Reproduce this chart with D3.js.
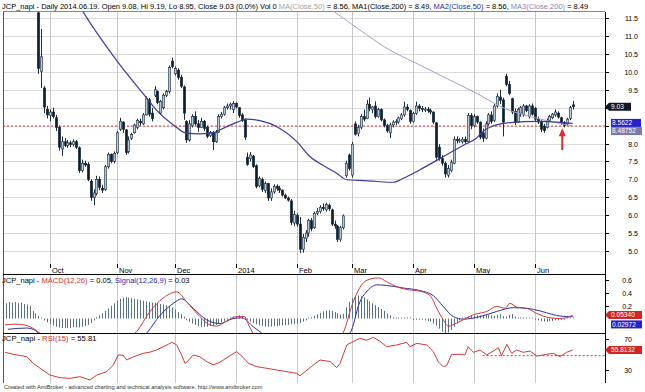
<!DOCTYPE html>
<html><head><meta charset="utf-8">
<script src="https://cdn.jsdelivr.net/npm/d3@7"></script>
<style>html,body{margin:0;padding:0;background:#fff;overflow:hidden}</style>
</head><body><svg id="c" width="645" height="392"></svg>
<script>
// ---------------- DATA ----------------
// bar index 0 = first visible candle; indices < 0 are bars whose prices lie above the chart
const opens = [11.65,10.02,9.55,8.95,8.78,8.88,8.72,8.45,7.85,8.05,7.95,8.02,7.97,8.05,7.88,7.25,7.45,7.42,6.95,6.50,6.60,7.00,6.75,6.72,7.35,7.70,7.50,7.75,8.40,8.60,8.38,7.78,8.15,8.30,8.45,8.62,8.55,8.80,9.22,8.85,9.35,9.45,8.85,9.00,9.35,9.45,10.30,9.95,10.05,9.85,9.58,8.62,8.10,8.50,8.75,8.55,8.45,8.62,8.45,8.22,8.30,8.05,8.32,8.75,8.82,9.00,9.05,8.95,9.12,9.00,8.80,8.65,7.62,7.58,7.65,7.38,6.82,7.00,6.68,6.88,6.48,6.65,6.80,6.75,6.70,6.56,6.48,6.40,5.78,6.00,5.75,5.05,5.35,5.50,5.85,5.65,6.05,6.10,6.22,6.15,6.28,6.15,5.75,5.70,5.32,5.65,7.10,7.68,7.12,8.55,8.28,8.45,8.75,8.70,9.10,8.95,9.05,8.75,8.95,8.66,8.50,8.30,8.52,8.60,8.60,8.70,8.80,9.02,8.92,8.62,8.84,9.05,8.98,8.95,8.96,8.92,8.88,8.58,7.90,7.58,7.45,7.12,7.25,7.45,8.12,8.08,8.05,8.12,8.05,8.78,8.50,8.75,8.60,8.30,8.15,8.55,8.80,8.65,9.05,9.30,9.22,9.88,9.65,9.25,8.90,8.60,8.85,8.80,9.05,8.75,9.05,8.98,8.68,8.62,8.48,8.45,8.65,8.72,8.80,8.85,8.72,8.58,8.55,8.70,9.08];
const highs = [11.75,11.20,9.60,9.05,8.95,9.00,8.80,8.50,8.20,8.15,8.10,8.08,8.12,8.10,7.92,7.55,7.52,7.48,7.00,6.72,7.10,7.08,6.85,7.40,7.75,7.72,7.78,8.35,8.72,8.62,8.40,8.20,8.30,8.55,8.70,8.70,8.85,9.32,9.27,9.00,9.60,9.48,9.22,9.40,9.50,10.18,10.40,10.15,10.10,9.92,9.62,8.65,8.66,8.82,8.90,8.66,8.72,8.66,8.50,8.35,8.35,8.38,8.82,8.88,9.05,9.12,9.14,9.18,9.15,9.02,8.85,8.70,7.75,7.76,7.68,7.42,7.08,7.05,6.94,6.90,6.75,6.86,6.86,6.82,6.72,6.60,6.52,6.45,6.12,6.05,5.95,5.48,5.58,5.90,5.92,6.10,6.20,6.28,6.33,6.35,6.32,6.18,5.85,5.72,5.70,6.02,7.52,7.72,8.05,8.62,8.52,8.82,8.95,9.22,9.28,9.05,9.18,9.00,8.98,8.70,8.55,8.58,8.65,8.68,8.75,8.85,9.17,9.10,8.95,8.88,9.17,9.10,9.05,9.02,9.02,8.98,8.90,8.60,7.98,7.68,7.50,7.40,7.55,8.20,8.20,8.15,8.18,8.20,8.85,8.85,8.82,8.78,8.62,8.42,8.62,8.85,8.90,9.10,9.40,9.50,9.28,9.95,9.75,9.28,8.98,9.00,9.05,9.10,9.08,9.10,9.12,9.02,8.75,8.65,8.55,8.70,8.80,8.85,8.95,8.90,8.75,8.62,8.72,9.05,9.19];
const lows = [9.95,9.55,8.85,8.70,8.62,8.70,8.35,7.80,7.65,7.90,7.88,7.90,7.92,7.85,7.18,7.20,7.35,6.95,6.40,6.28,6.55,6.70,6.62,6.68,7.30,7.45,7.45,7.70,8.35,8.30,7.68,7.72,8.10,8.28,8.40,8.50,8.52,8.78,8.75,8.62,9.30,9.10,8.80,8.95,9.30,9.40,10.10,9.90,9.78,9.55,8.66,8.02,8.05,8.45,8.50,8.33,8.44,8.35,8.15,8.18,7.82,8.02,8.30,8.70,8.78,8.95,8.95,8.85,8.98,8.72,8.60,8.10,7.38,7.50,7.32,6.75,6.78,6.65,6.62,6.40,6.40,6.60,6.68,6.62,6.52,6.45,6.38,5.72,5.70,5.68,4.94,4.95,5.25,5.40,5.55,5.62,6.00,6.05,6.12,6.10,6.12,5.70,5.62,5.25,5.26,5.60,7.05,7.25,7.05,8.22,8.20,8.40,8.62,8.68,8.90,8.85,8.70,8.72,8.62,8.45,8.30,8.15,8.45,8.52,8.55,8.65,8.75,8.90,8.55,8.58,8.80,8.90,8.88,8.88,8.86,8.82,8.55,7.55,7.52,7.38,7.05,7.05,7.20,7.42,8.00,8.02,8.00,8.00,8.02,8.40,8.45,8.55,8.12,8.05,8.12,8.50,8.55,8.60,9.00,9.10,8.20,9.60,9.35,8.82,8.52,8.58,8.75,8.75,8.88,8.70,8.78,8.62,8.55,8.32,8.30,8.42,8.62,8.68,8.75,8.70,8.52,8.45,8.50,8.65,8.95];
const closes = [10.10,10.42,9.02,8.80,8.88,8.75,8.45,7.90,8.05,7.95,8.02,7.97,8.05,7.90,7.25,7.45,7.40,7.00,6.50,6.62,7.00,6.78,6.70,7.35,7.70,7.50,7.72,8.30,8.62,8.40,7.75,8.10,8.25,8.52,8.65,8.58,8.80,9.25,8.82,8.70,9.50,9.15,9.18,9.35,9.45,10.12,10.15,10.10,9.85,9.60,8.85,8.10,8.55,8.75,8.55,8.45,8.62,8.42,8.20,8.30,8.05,8.30,8.75,8.82,9.00,9.05,9.10,9.12,9.02,8.78,8.65,8.18,7.42,7.68,7.36,6.80,7.02,6.72,6.88,6.48,6.65,6.80,6.75,6.70,6.56,6.48,6.42,5.80,6.02,5.75,5.05,5.38,5.50,5.85,5.62,6.05,6.10,6.22,6.18,6.30,6.18,5.75,5.70,5.32,5.65,5.98,7.45,7.30,7.98,8.26,8.45,8.75,8.68,9.10,8.98,9.02,8.75,8.95,8.66,8.50,8.35,8.52,8.60,8.62,8.72,8.80,9.02,8.95,8.62,8.84,9.05,8.98,8.95,8.96,8.92,8.88,8.60,7.62,7.58,7.45,7.15,7.30,7.48,8.12,8.08,8.10,8.12,8.05,8.78,8.50,8.75,8.60,8.18,8.15,8.55,8.80,8.62,9.05,9.32,9.20,8.60,9.65,9.40,8.88,8.60,8.95,9.00,9.05,8.92,9.05,8.82,8.68,8.60,8.40,8.36,8.65,8.76,8.82,8.88,8.74,8.56,8.50,8.68,9.00,9.03];

// moving averages: [bar index, value]
const ma50Pts = [[12,12.15],[15,11.73],[26.4,10.38],[37.3,9.27],[40.6,8.94],[46.5,8.52],[51,8.29],[55.6,8.27],[61.1,8.32],[62.5,8.38],[68.3,8.59],[71.7,8.68],[76.3,8.64],[82.1,8.47],[88.9,8.06],[93.5,7.64],[98.7,7.36],[102.7,7.17],[106.2,6.99],[110.7,6.97],[116.5,6.94],[122.2,6.92],[125.7,7.03],[131.4,7.27],[138.5,7.59],[146.5,7.96],[150.7,8.14],[153.4,8.36],[156.9,8.50],[161.5,8.58],[167.2,8.61],[173,8.62],[178.7,8.60],[184,8.5622]];
const ma200Pts = [[96,12.01],[101,11.73],[110.7,11.17],[120,10.66],[131.4,10.19],[141,9.80],[150.7,9.41],[160.3,8.99],[167.2,8.80],[173,8.68],[184,8.4875]];
const ma200Last = 8.48752, ma50Last = 8.5622, lastClose = 9.03;

// MACD histogram, one value per bar starting at bar -11
const histStart = -11;
const macdHist = [0.24,0.26,0.25,0.26,0.24,0.25,0.23,0.22,0.20,0.12,0.08,
 0.04,0.01,
 -0.03,-0.06,-0.09,-0.11,-0.13,-0.14,-0.15,-0.15,-0.15,-0.15,-0.14,-0.14,-0.14,-0.13,-0.12,-0.10,-0.07,-0.03,
 0.02,0.05,0.08,0.12,0.16,0.20,0.24,0.28,0.31,0.33,0.34,0.33,
 0.32,0.31,0.30,0.29,0.28,0.27,0.26,0.25,0.25,0.24,0.23,0.22,0.21,0.19,0.17,0.14,0.10,0.07,0.03,
 -0.02,-0.05,-0.08,-0.10,-0.12,-0.13,-0.13,-0.13,-0.12,-0.11,-0.10,-0.08,-0.06,-0.04,-0.02,
 0.01,0.03,0.04,0.05,0.04,0.02,
 -0.02,-0.05,-0.07,-0.09,-0.11,-0.12,-0.13,-0.13,-0.13,-0.12,-0.12,-0.11,-0.11,-0.10,-0.10,-0.09,-0.09,-0.08,-0.07,-0.05,-0.03,-0.01,
 0.02,0.04,0.07,0.09,0.11,0.12,0.13,0.12,0.10,0.08,0.06,0.07,0.18,0.26,0.32,0.35,0.36,0.35,0.33,0.30,0.27,0.24,0.21,0.18,0.15,0.12,0.08,0.05,0.02,
 0.01,0.00,-0.01,-0.01,-0.01,-0.01,-0.02,-0.02,-0.02,
 -0.02,-0.03,-0.04,-0.05,-0.08,-0.11,-0.16,-0.21,-0.24,-0.22,-0.18,-0.13,-0.08,-0.03,
 0.01,0.02,0.03,0.04,0.04,0.05,0.05,0.05,0.05,0.06,0.05,0.04,0.06,0.07,0.04,0.03,0.06,0.07,0.03,0.01,
 0.00,-0.01,0.00,-0.01,-0.01,
 -0.02,-0.03,-0.04,-0.05,-0.05,-0.04,-0.04,-0.03,-0.03,-0.02,-0.02,-0.01,0.01,0.02];
const macdPts = [[-11.5,-0.10],[-8,-0.09],[-5,-0.10],[-2,-0.15],[0.5,-0.23],[5,-0.40],[12,-0.55],[20,-0.50],[27,-0.35],[33.3,-0.23],[38.4,0.11],[42.9,0.32],[46.4,0.41],[47.6,0.42],[51.1,0.26],[55.6,0.03],[59,-0.10],[61.4,-0.12],[64.8,-0.04],[68.3,0.03],[71,0.03],[72.2,-0.08],[73.9,-0.23],[80,-0.45],[90,-0.60],[100,-0.45],[104.9,-0.23],[108.4,0.26],[111.3,0.53],[114.2,0.62],[117.1,0.64],[119.9,0.58],[123.4,0.50],[127.9,0.45],[131.4,0.43],[134.9,0.36],[137.2,0.16],[139.4,-0.02],[141.2,-0.12],[144.1,-0.07],[146.3,-0.02],[149.8,0.06],[154.4,0.11],[157.8,0.19],[160.7,0.16],[162.4,0.24],[164.7,0.18],[168.2,0.16],[171.6,0.08],[176.2,0.01],[179.6,0.00],[183,0.03],[184,0.0534]];
const signalPts = [[-10.5,-0.17],[-4,-0.15],[-1,-0.19],[0,-0.23],[10,-0.45],[20,-0.60],[30,-0.50],[37.3,-0.23],[41.9,0.05],[46.5,0.24],[49.3,0.31],[53.3,0.16],[57.9,-0.02],[62.5,-0.08],[67.1,0.00],[70,0.01],[74,-0.13],[76.9,-0.23],[85,-0.45],[95,-0.50],[103,-0.35],[107.3,-0.23],[110.7,0.26],[113.6,0.45],[116.5,0.53],[119.9,0.52],[125.7,0.48],[131.4,0.44],[136,0.36],[139.4,0.19],[142.9,0.03],[146.3,-0.01],[152.1,0.03],[157.8,0.11],[163.5,0.17],[168.2,0.16],[172.7,0.12],[177.3,0.06],[181.9,0.03],[184,0.0297]];
const macdLast = 0.05340, signalLast = 0.02972;

const rsiPts = [[-11.5,52.8],[-8.6,50.2],[-4,47.2],[-1.8,38.6],[0.6,32.2],[4,23.5],[7.4,20.1],[10.9,19.2],[14.3,21.4],[17.8,17.1],[20.1,23.5],[23.5,27.8],[25.8,36.5],[27.5,49.4],[29.2,49],[30.4,42.9],[32.7,47],[36.1,51.5],[38.4,53],[40.7,55.8],[43,60.1],[44.7,63.1],[45.9,65.7],[47.6,62.5],[49.3,49.4],[50.5,38.6],[51.6,42],[53.3,49.4],[55.6,47],[58,40.7],[60.2,36.5],[62.5,40],[66,48.5],[68.3,53.7],[70.6,45.9],[72.3,38.6],[75.2,34.3],[78.6,32.2],[82.1,30],[85.5,27.8],[88.9,25.7],[90.1,22.6],[91.8,27.8],[94.7,36.5],[97,42.9],[100.4,41],[102.7,33],[103.9,38.6],[106.2,62.3],[107.9,65.7],[110.7,70.9],[113,68.5],[115.3,72],[117.6,67.3],[119.9,60.1],[123.4,62.3],[126.8,65.7],[128,60.1],[130.3,64.4],[133.7,62.3],[136,53.7],[137.7,40.7],[139.4,34.3],[140.6,35.6],[142.3,50.2],[145.2,50.2],[146.9,49.4],[148,60.1],[149.8,52.8],[152.1,55.8],[154.4,49.4],[156.7,54.5],[158.4,58.8],[159.5,48.5],[161.3,63.1],[163,51.5],[164.7,55.8],[167,52.8],[169.3,54.5],[171.6,48],[175,50.2],[177.3,51.5],[179.6,47.2],[181.9,52.8],[184,55.8132]];
const rsiLast = 55.8132;
const rsiRefLevel = 48.5, rsiRefStart = 153;

// axes / labels
const monthLabels = ["Oct","Nov","Dec","2014","Feb","Mar","Apr","May","Jun"];
const monthIdx = [4,27,47,68,89,108,129,150,171];
const priceTicks = [5.0,5.5,6.0,6.5,7.0,7.5,8.0,8.5,9.0,9.5,10.0,10.5,11.0,11.5];
const macdTicks = [0.2,0.4,0.6];
const rsiTicks = [30,70];
const arrowIdx = 180.4, arrowTip = 8.43, arrowTail = 7.82;

// ---------------- DRAWING ----------------
const FONT = "'Liberation Sans', Arial, sans-serif";
const svg = d3.select("#c");
const L = 3, R = 605;
const P = {top: 12, bot: 263}, M = {top: 274, bot: 333}, S = {top: 333, bot: 383};

const x = d3.scaleLinear().domain([0, 184]).range([38.4, 572.7]);
const yP = d3.scaleLinear().domain([5, 11.5]).range([251, 18.2]);
const yM = d3.scaleLinear().domain([0, 0.6]).range([318.5, 280.4]);
const yR = d3.scaleLinear().domain([30, 70]).range([370, 339]);

const defs = svg.append("defs");
function clip(id, t, b) {
  defs.append("clipPath").attr("id", id).append("rect")
    .attr("x", L).attr("y", t).attr("width", R - L).attr("height", b - t);
  return "url(#" + id + ")";
}
const cP = clip("cp", P.top, P.bot), cM = clip("cm", M.top, M.bot), cS = clip("cs", S.top, S.bot);

svg.append("rect").attr("width", 645).attr("height", 392).attr("fill", "#fff");

// grid
const grid = svg.append("g");
grid.selectAll(".hg").data(priceTicks).join("line")
  .attr("x1", L).attr("x2", R).attr("y1", d => Math.round(yP(d)) + 0.5).attr("y2", d => Math.round(yP(d)) + 0.5)
  .attr("stroke", "#dcdcdc").attr("stroke-width", 1);
[[P.top, P.bot], [M.top, M.bot], [S.top, S.bot]].forEach(([t, b]) => {
  grid.selectAll(null).data(monthIdx).join("line")
    .attr("x1", d => Math.round(x(d)) + 0.5).attr("x2", d => Math.round(x(d)) + 0.5)
    .attr("y1", t).attr("y2", b).attr("stroke", "#c8c8c8").attr("stroke-width", 1);
});

// date axis labels
const dax = svg.append("g");
monthIdx.forEach((d, k) => {
  const xx = Math.round(x(d)) + 0.5;
  dax.append("line").attr("x1", xx).attr("x2", xx).attr("y1", 264).attr("y2", 268).attr("stroke", "#000");
  dax.append("text").attr("x", xx + 1.5).attr("y", 272.5).attr("font-family", FONT).attr("font-size", 7.5)
    .attr("fill", "#000").text(monthLabels[k]);
});

// price pane
const pg = svg.append("g").attr("clip-path", cP);
pg.append("line").attr("x1", L).attr("x2", R).attr("y1", yP(ma200Last)).attr("y2", yP(ma200Last))
  .attr("stroke", "#d23a3a").attr("stroke-dasharray", "2,2").attr("stroke-width", 1);
const bars = d3.range(closes.length);
pg.selectAll(".wk").data(bars).join("line")
  .attr("x1", i => Math.round(x(i)) + 0.5).attr("x2", i => Math.round(x(i)) + 0.5)
  .attr("y1", i => yP(highs[i])).attr("y2", i => yP(lows[i]))
  .attr("stroke", "#1c2d3f").attr("stroke-width", 1);
pg.selectAll(".bd").data(bars).join("rect")
  .attr("x", i => Math.round(x(i)) - 0.7).attr("width", 2.4)
  .attr("y", i => yP(Math.max(opens[i], closes[i])))
  .attr("height", i => Math.max(1, Math.abs(yP(opens[i]) - yP(closes[i]))))
  .attr("fill", i => closes[i] >= opens[i] ? "#b9c7d5" : "#0e1c2b")
  .attr("stroke", "#1c2d3f").attr("stroke-width", 0.6);
const lineP = d3.line().x(d => x(d[0])).y(d => yP(d[1])).curve(d3.curveMonotoneX);
pg.append("path").attr("d", lineP(ma200Pts)).attr("fill", "none").attr("stroke", "#a7a3c6").attr("stroke-width", 1);
pg.append("path").attr("d", lineP(ma50Pts)).attr("fill", "none").attr("stroke", "#3b3b9b").attr("stroke-width", 1.2);
// red arrow
const ax = x(arrowIdx);
pg.append("line").attr("x1", ax).attr("x2", ax).attr("y1", yP(arrowTip) + 6).attr("y2", yP(arrowTail))
  .attr("stroke", "#e32b2b").attr("stroke-width", 2);
pg.append("path").attr("d", `M${ax},${yP(arrowTip)} L${ax - 3.5},${yP(arrowTip) + 8} L${ax + 3.5},${yP(arrowTip) + 8} Z`).attr("fill", "#e32b2b");

// MACD pane
const mg = svg.append("g").attr("clip-path", cM);
mg.selectAll(".hb").data(macdHist).join("line")
  .attr("x1", (d, k) => Math.round(x(k + histStart)) + 0.5).attr("x2", (d, k) => Math.round(x(k + histStart)) + 0.5)
  .attr("y1", yM(0)).attr("y2", d => Math.abs(yM(d) - yM(0)) < 1 ? yM(0) - 1 : yM(d))
  .attr("stroke", "#557383").attr("stroke-width", 1);
const lineM = d3.line().x(d => x(d[0])).y(d => yM(d[1])).curve(d3.curveMonotoneX);
mg.append("path").attr("d", lineM(signalPts)).attr("fill", "none").attr("stroke", "#3030a8").attr("stroke-width", 1);
mg.append("path").attr("d", lineM(macdPts)).attr("fill", "none").attr("stroke", "#d03a3a").attr("stroke-width", 1);

// RSI pane
const rg = svg.append("g").attr("clip-path", cS);
rg.append("line").attr("x1", x(rsiRefStart)).attr("x2", R).attr("y1", yR(rsiRefLevel)).attr("y2", yR(rsiRefLevel))
  .attr("stroke", "#d23a3a").attr("stroke-dasharray", "2,2");
const lineR = d3.line().x(d => x(d[0])).y(d => yR(d[1]));
rg.append("path").attr("d", lineR(rsiPts)).attr("fill", "none").attr("stroke", "#d03a3a").attr("stroke-width", 1);

// frame
const fr = svg.append("g").attr("stroke", "#000").attr("stroke-width", 1);
fr.append("line").attr("x1", R + 0.5).attr("x2", R + 0.5).attr("y1", P.top).attr("y2", S.bot);
fr.append("line").attr("x1", L + 0.5).attr("x2", L + 0.5).attr("y1", P.top).attr("y2", S.bot).attr("stroke", "#555");
fr.append("line").attr("x1", L).attr("x2", R).attr("y1", M.top + 0.5).attr("y2", M.top + 0.5);
fr.append("line").attr("x1", L).attr("x2", R).attr("y1", M.bot + 0.5).attr("y2", M.bot + 0.5);
fr.append("line").attr("x1", L).attr("x2", R).attr("y1", P.top - 0.5).attr("y2", P.top - 0.5).attr("stroke", "#888");

// value tags (positions computed first so that covered axis labels are skipped)
const tags = [
  {v: lastClose, yc: yP(lastClose), c: "#111827", arrow: true, txt: lastClose.toFixed(2), x2: 631},
  {v: ma50Last, yc: yP(ma50Last) - 0.5, c: "#2323c8", arrow: false, txt: String(ma50Last), x2: 641},
  {v: ma200Last, yc: yP(ma200Last) + 5, c: "#7d79a8", arrow: false, txt: String(ma200Last), x2: 642},
  {v: macdLast, yc: yM(macdLast), c: "#d42424", arrow: true, txt: macdLast.toFixed(5), x2: 642},
  {v: signalLast, yc: yM(signalLast) + 7.8, c: "#2323c8", arrow: false, txt: signalLast.toFixed(5), x2: 642},
  {v: rsiLast, yc: yR(rsiLast), c: "#d42424", arrow: true, txt: rsiLast.toFixed(4), x2: 642}
];

// right axes
const axg = svg.append("g").attr("font-family", FONT).attr("font-size", 7).attr("fill", "#000");
function ticks(vals, sc, fmt, xr) {
  vals.forEach(v => {
    const yy = Math.round(sc(v)) + 0.5;
    axg.append("line").attr("x1", R).attr("x2", R + 4).attr("y1", yy).attr("y2", yy).attr("stroke", "#000");
    const covered = tags.some(t => Math.abs(t.yc - yy) < 7.5);
    if (!covered) axg.append("text").attr("x", xr).attr("y", yy + 2.5).attr("text-anchor", "end").text(fmt(v));
  });
}
ticks(priceTicks, yP, d3.format(".1f"), 638);
ticks(macdTicks, yM, d3.format(".1f"), 632);
ticks(rsiTicks, yR, d3.format("d"), 632);

tags.forEach(t => {
  const h = 8, top = t.yc - h / 2;
  const g = svg.append("g");
  if (t.arrow) g.append("path").attr("d", `M${R},${t.yc} L${R + 4},${top} L${t.x2},${top} L${t.x2},${top + h} L${R + 4},${top + h} Z`).attr("fill", t.c);
  else g.append("rect").attr("x", 611).attr("y", top).attr("width", t.x2 - 611).attr("height", h).attr("fill", t.c);
  g.append("text").attr("x", t.arrow ? 611 : 612).attr("y", t.yc + 2.3).attr("font-family", FONT).attr("font-size", 6.6)
    .attr("fill", "#fff").text(t.txt);
});

// titles
function fitText(sel, target) {
  const w = sel.node().getBBox().width;
  sel.attr("font-size", parseFloat(sel.attr("font-size")) * target / w);
}
function title(y, parts, target) {
  const t = svg.append("text").attr("x", 2).attr("y", y).attr("font-family", FONT).attr("font-size", 10);
  parts.forEach(([s, c]) => t.append("tspan").attr("fill", c).text(s));
  fitText(t, target);
}
const BK = "#000", GR = "#a3a3a3", BL = "#2a2ab0", LV = "#8985b5", RD = "#d03030";
title(9, [["JCP_napi - Daily 2014.06.19. Open 9.08, Hi 9.19, Lo 8.95, Close 9.03 (0.0%) Vol 0 ", BK], ["MA(Close,50)", GR],
  [" = 8.56, MA1(Close,200) = 8.49, ", BK], ["MA2(Close,50)", BL], [" = 8.56, ", BK], ["MA3(Close,200)", LV], [" = 8.49", BK]], 588);
title(282.5, [["JCP_napi - ", BK], ["MACD(12,26)", RD], [" = 0.05, ", BK], ["Signal(12,26,9)", BL], [" = 0.03", BK]], 188);
title(340.5, [["JCP_napi - ", BK], ["RSI(15)", RD], [" = 55.81", BK]], 95);
const ft = svg.append("text").attr("x", 4).attr("y", 389).attr("font-family", FONT).attr("font-size", 6).attr("fill", "#333")
  .text("Created with AmiBroker - advanced charting and technical analysis software. http://www.amibroker.com");
fitText(ft, 259);
</script></body></html>
